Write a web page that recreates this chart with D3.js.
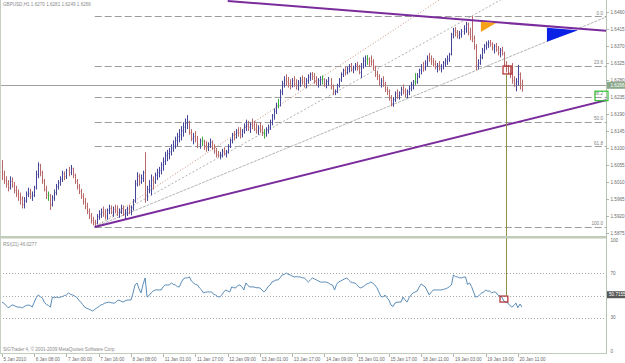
<!DOCTYPE html>
<html>
<head>
<meta charset="utf-8">
<script src="https://cdn.jsdelivr.net/npm/d3@7"></script>
<style>
  html, body { margin: 0; padding: 0; background: #fff; }
  svg { display: block; font-family: "Liberation Sans", Arial, sans-serif; }
</style>
</head>
<body>
<div id="chart"></div>
<script>
// GBPUSD H1 bars, pips above 1.5800 -> [high, low, close]; open = previous close
const base = 1.58;
const firstOpen = 250;
const bars = [
  [268,215,230],[240,205,215],[225,195,205],[215,185,195],[225,190,212],[222,195,200],[210,180,188],[200,170,178],[190,160,170],[182,150,165],
  [172,140,150],[170,140,160],[185,155,178],[195,170,180],[192,165,172],[185,160,175],[200,170,195],[240,190,230],[262,220,255],[258,225,235],
  [240,205,212],[218,185,190],[200,165,175],[185,160,175],[178,136,150],[175,145,168],[190,160,182],[205,175,198],[215,190,208],[225,200,218],
  [240,210,232],[238,215,225],[245,218,240],[250,225,235],[255,228,245],[248,220,228],[232,205,212],[218,190,198],[205,178,185],[192,165,172],
  [180,150,158],[168,138,145],[155,125,132],[140,112,120],[128,100,108],[118,95,102],[110,91,100],[125,98,118],[135,110,125],[140,115,130],
  [145,118,125],[138,112,120],[140,110,135],[150,125,140],[148,125,130],[145,118,138],[150,128,135],[148,120,128],[140,115,132],[150,125,140],
  [148,120,125],[138,112,130],[145,120,138],[150,125,135],[148,122,142],[165,135,160],[215,155,205],[236,198,225],[232,200,210],[230,205,220],
  [240,210,235],[289,155,175],[200,160,190],[215,180,200],[230,175,215],[225,190,210],[235,205,228],[245,215,235],[250,222,240],[262,230,255],
  [275,240,265],[290,255,280],[295,265,285],[300,270,290],[310,280,300],[320,290,305],[330,298,320],[340,305,330],[350,315,335],[358,320,345],
  [368,330,355],[378,340,365],[387,350,370],[372,335,340],[350,318,325],[340,310,330],[345,315,322],[332,300,310],[325,298,318],[330,305,318],
  [322,295,305],[318,290,300],[315,292,310],[325,300,315],[320,295,300],[310,285,292],[300,275,282],[292,275,280],[290,270,282],[298,275,290],
  [302,280,285],[295,275,290],[310,285,305],[325,300,320],[340,312,335],[345,320,328],[350,325,345],[355,330,340],[355,325,335],[350,328,345],
  [365,338,358],[375,345,362],[372,345,355],[368,340,362],[378,350,360],[372,345,350],[365,338,345],[360,335,352],[368,340,348],[360,332,338],
  [350,325,338],[355,330,348],[362,338,355],[375,348,368],[390,360,385],[405,375,398],[420,390,412],[430,405,412],[455,410,448],[478,440,470],
  [490,460,480],[495,465,475],[488,460,470],[482,455,465],[485,460,478],[490,462,470],[482,455,465],[480,452,472],[488,462,480],[492,468,475],
  [488,460,470],[485,458,478],[495,470,488],[500,478,495],[501,480,490],[498,470,478],[490,465,472],[485,460,478],[490,465,482],[492,468,482],
  [485,462,470],[482,458,476],[488,465,480],[485,455,462],[468,440,448],[455,440,450],[470,445,465],[485,460,480],[500,475,495],[510,488,505],
  [515,492,500],[515,495,510],[522,500,515],[525,502,508],[518,498,512],[525,505,520],[528,505,512],[520,495,500],[525,485,515],[540,510,530],
  [545,515,535],[546,520,535],[540,515,530],[545,518,528],[535,505,512],[518,488,495],[505,480,490],[495,465,472],[485,460,478],[490,462,470],
  [475,448,455],[462,440,450],[455,425,432],[440,410,418],[435,409,428],[450,422,445],[455,430,438],[450,428,445],[462,438,455],[468,442,450],
  [458,435,442],[455,432,448],[465,440,458],[475,450,468],[480,455,475],[498,467,475],[498,470,490],[510,485,505],[522,495,515],[528,502,512],
  [532,505,525],[545,515,538],[552,528,535],[545,520,528],[538,515,522],[532,508,515],[525,500,518],[530,505,510],[522,500,515],[530,508,525],
  [538,515,530],[545,520,535],[552,528,548],[605,545,600],[618,590,610],[620,595,605],[612,590,598],[610,588,602],[615,592,608],[625,600,615],
  [634,605,628],[632,598,605],[618,585,595],[649,580,590],[598,560,568],[575,506,520],[535,508,525],[548,520,540],[565,535,558],[575,550,570],
  [582,560,575],[585,565,578],[586,568,575],[580,558,565],[575,550,570],[578,555,560],[570,545,552],[565,540,558],[568,545,550],[555,515,522],
  [530,500,510],[520,495,500],[515,485,495],[525,470,478],[490,462,470],[485,450,475],[520,465,495],[500,455,470],[481,449,466]
];

// RSI(21) per bar
const rsi = [
  44,43,41,39,40,41.5,41,40,39.5,39.6, 38.7,40,41,41.4,41,39.6,44,48,50.5,49,
  47.7,44,42,41,39.6,48.6,48,48.6,48,48.6, 49,50,50.5,52.3,51,50.5,49.5,48.6,46,44.1,
  42,39.6,38.5,37.8,37,36,37.5,38.7,40,41.4, 42,43.2,43.5,44.1,43.5,43.2,43.2,45,45.9,45,
  44.1,45,45.9,46,45.9,52,59.5,61.3,56,52.3, 60,65.8,48.6,50,52.3,54,55,55,55,55,
  58,59.5,59.5,59.5,61.3,60,59.5,58,57.7,62, 65,65.8,66,66.7,63,61.3,60,59.5,56.8,55,
  52.3,53,53.2,53.2,53.2,51,50.5,49,48.6,50.5, 53,55,54,53.2,57.7,57,56.8,59,59.5,58,
  55,61.3,59,57.7,57.7,57.7,57,57,56.8,55, 53.2,55,58,59.5,62.2,63,64,64,66,68.5,
  69,70.3,69,68.5,67.5,66.7,67,66.7,66.7,66, 65.8,64,62.2,64,65.8,65,64,63,62.2,62,
  62.2,62,61.3,60,59.5,55,60,62.2,63,64, 65,65.8,64,62.2,61.5,61.3,60,57.7,56.8,57.7,
  59,60.4,61,62.2,61,59.5,57,53.2,49,48.6, 50.5,48,46,41.4,40,43.2,44,44.1,44.1,48.6,
  46,44.1,48,50.5,52.3,53.2,54,57.7,60.4,59, 57.7,54,50.5,53,55,55,55,55,55,55.5,
  56,56.8,58,59.5,68.5,67,66.7,66,65.8,66.5, 66.7,60,61.3,58,53,48.6,49,50.5,52.3,53,
  55,54,54,52.3,53.2,53,50.5,49.5,48.6,45, 44.1,43.2,41,39.6,41,43.2,39,42.3,39.6
];
const rsiHeader = 46.0277;
const rsiMarker = 50.7155;

const xLabels = ['5 Jan 2010', '6 Jan 08:00', '7 Jan 00:00', '7 Jan 16:00', '8 Jan 08:00', '11 Jan 01:00',
  '11 Jan 17:00', '12 Jan 09:00', '13 Jan 01:00', '13 Jan 17:00', '14 Jan 09:00', '15 Jan 01:00',
  '15 Jan 17:00', '18 Jan 11:00', '19 Jan 03:00', '19 Jan 19:00', '20 Jan 11:00'];
const priceTicks = ['1.6460', '1.6415', '1.6370', '1.6325', '1.6280', '1.6235', '1.6190', '1.6145',
  '1.6100', '1.6055', '1.6010', '1.5965', '1.5920', '1.5875'];
const rsiTicks = [100, 70, 30, 0];
const rsiLevels = [70, 50, 30];

// drawing objects: [bar, price]
const fibLevels = [0, 23.6, 38.2, 50, 61.8, 100];
const fibHigh = [233, 1.6449];
const fibLow = [46, 1.5891];
const trendDown = [[112, 1.6489], [300, 1.6410]];
const trendUp = [[46, 1.5891], [300, 1.6227]];
const fanBrown = [[46, 1.5891], [217, 1.6492]];
const fanGrey = [[46, 1.5891], [233, 1.6449]];
const fanGrey2 = [[46, 1.5891], [300, 1.6447]];
const triOrange = [[237.6, 1.6434], [245.1, 1.6431], [237.6, 1.6407]];
const triBlue = [[270.4, 1.6418], [285.8, 1.6412], [270.4, 1.6381]];
const boxPrice = [[248.6, 1.6317], [253, 1.6296]];
const boxRsi = [[247.1, 49.5], [251, 44.1]];
const vLineBar = 250;

const ohlc = bars.map((b, i) => ({
  i,
  o: base + (i ? bars[i - 1][2] : firstOpen) / 1e4,
  h: base + b[0] / 1e4,
  l: base + b[1] / 1e4,
  c: base + b[2] / 1e4
}));

const W = 625, H = 363;
const right = 606;
const mainBottom = 236, rsiTop = 238.5, rsiBottom = 353;

const x = d3.scaleLinear().domain([0, 299.7]).range([2, right]);
const y = d3.scaleLinear().domain([1.5875, 1.6460]).range([233, 12]);
const yr = d3.scaleLinear().domain([0, 100]).range([351, 240]);
const px = v => Math.round(x(v)) + 0.5;

const svg = d3.create('svg').attr('width', W).attr('height', H);

const defs = svg.append('defs');
defs.append('clipPath').attr('id', 'clipMain')
  .append('rect').attr('x', 1).attr('y', 0).attr('width', right - 1).attr('height', mainBottom);
defs.append('clipPath').attr('id', 'clipRsi')
  .append('rect').attr('x', 1).attr('y', rsiTop).attr('width', right - 1).attr('height', rsiBottom - rsiTop);

const main = svg.append('g').attr('clip-path', 'url(#clipMain)');
const sub = svg.append('g').attr('clip-path', 'url(#clipRsi)');

// fib levels
const fibPrice = lv => fibHigh[1] - (fibHigh[1] - fibLow[1]) * lv / 100;
main.append('g').selectAll('line')
  .data(fibLevels)
  .join('line')
  .attr('x1', x(fibLow[0])).attr('x2', right)
  .attr('y1', d => Math.round(y(fibPrice(d))) + 0.5)
  .attr('y2', d => Math.round(y(fibPrice(d))) + 0.5)
  .attr('stroke', '#9c9c9c')
  .attr('stroke-dasharray', '7 3');
main.append('g').selectAll('text')
  .data(fibLevels)
  .join('text')
  .attr('x', right - 3)
  .attr('y', d => y(fibPrice(d)) - 1.5)
  .attr('text-anchor', 'end')
  .attr('font-size', 4.6)
  .attr('fill', '#808080')
  .text(d => d.toFixed(1));

// bid line
const last = ohlc[ohlc.length - 1];
main.append('line')
  .attr('x1', 0).attr('x2', right)
  .attr('y1', Math.round(y(last.c)) + 0.5).attr('y2', Math.round(y(last.c)) + 0.5)
  .attr('stroke', '#a0a0a0');

// rays from two points
const ray = (g, pts, color, width, dash) => {
  const [a, b] = pts;
  const x1 = x(a[0]), y1 = y(a[1]), x2 = x(b[0]), y2 = y(b[1]);
  const t = 6;
  g.append('line')
    .attr('x1', x1).attr('y1', y1)
    .attr('x2', x1 + (x2 - x1) * t).attr('y2', y1 + (y2 - y1) * t)
    .attr('stroke', color).attr('stroke-width', width)
    .attr('stroke-dasharray', dash);
};
ray(main, fanBrown, '#c4907c', 1, '1 2');
ray(main, fanGrey, '#b0b0b0', 1, '2 2');
ray(main, fanGrey2, '#b4b4b4', 1, '3 1');

// bars
const upColor = '#45459a', downColor = '#b86868', flatColor = '#3cae3c';
const barColor = d => d.c > d.o + 1e-9 ? upColor : d.c < d.o - 1e-9 ? downColor : flatColor;
const gBars = main.append('g');
gBars.selectAll('.tick-o')
  .data(ohlc)
  .join('line')
  .attr('x1', d => px(d.i) - 1).attr('x2', d => px(d.i))
  .attr('y1', d => y(d.o)).attr('y2', d => y(d.o))
  .attr('stroke', barColor).attr('stroke-opacity', 0.35);
gBars.selectAll('.tick-c')
  .data(ohlc)
  .join('line')
  .attr('x1', d => px(d.i)).attr('x2', d => px(d.i) + 1)
  .attr('y1', d => y(d.c)).attr('y2', d => y(d.c))
  .attr('stroke', barColor).attr('stroke-opacity', 0.35);
gBars.selectAll('.hl')
  .data(ohlc)
  .join('line')
  .attr('x1', d => px(d.i)).attr('x2', d => px(d.i))
  .attr('y1', d => y(d.h)).attr('y2', d => y(d.l))
  .attr('stroke', barColor);

// trend lines
const tl = (pts, extend) => {
  const [a, b] = pts;
  main.append('line')
    .attr('x1', x(a[0])).attr('y1', y(a[1]))
    .attr('x2', x(b[0])).attr('y2', y(b[1]))
    .attr('stroke', '#7a2c9c').attr('stroke-width', 2);
};
tl(trendDown);
tl(trendUp);

// triangles
const tri = (pts, color) => main.append('path')
  .attr('d', d3.line().x(d => x(d[0])).y(d => y(d[1]))(pts) + 'Z')
  .attr('fill', color);
tri(triOrange, '#f7a11a');
tri(triBlue, '#0b22e6');

// red box on price
main.append('rect')
  .attr('x', x(boxPrice[0][0])).attr('y', y(boxPrice[0][1]))
  .attr('width', x(boxPrice[1][0]) - x(boxPrice[0][0]))
  .attr('height', y(boxPrice[1][1]) - y(boxPrice[0][1]))
  .attr('fill', 'none').attr('stroke', '#b0282a').attr('stroke-width', 1.2);

// RSI panel
sub.append('g').selectAll('line')
  .data(rsiLevels)
  .join('line')
  .attr('x1', 0).attr('x2', right)
  .attr('y1', d => Math.round(yr(d)) + 0.5).attr('y2', d => Math.round(yr(d)) + 0.5)
  .attr('stroke', '#a8a8a8').attr('stroke-dasharray', '1 2');
sub.append('path')
  .datum(rsi)
  .attr('fill', 'none')
  .attr('stroke', '#5a8cb8')
  .attr('stroke-width', 1)
  .attr('d', d3.line().x((d, i) => x(i)).y(d => yr(d)));
sub.append('rect')
  .attr('x', x(boxRsi[0][0])).attr('y', yr(boxRsi[0][1]))
  .attr('width', x(boxRsi[1][0]) - x(boxRsi[0][0]))
  .attr('height', yr(boxRsi[1][1]) - yr(boxRsi[0][1]))
  .attr('fill', 'none').attr('stroke', '#b0282a').attr('stroke-width', 1.2);

// vertical line joining the two boxes
svg.append('line')
  .attr('x1', px(vLineBar)).attr('x2', px(vLineBar))
  .attr('y1', y(boxPrice[1][1])).attr('y2', yr(boxRsi[0][1]))
  .attr('stroke', '#8f8f48');

// frames
svg.append('line').attr('x1', 0.5).attr('x2', 0.5).attr('y1', 0).attr('y2', rsiBottom)
  .attr('stroke', '#c8cfc4');
svg.append('rect').attr('x', 0).attr('y', mainBottom).attr('width', right + 1).attr('height', 2.5)
  .attr('fill', '#c2ccba');
svg.append('line').attr('x1', 0).attr('x2', right + 1).attr('y1', rsiBottom + 0.5).attr('y2', rsiBottom + 0.5)
  .attr('stroke', '#c2ccba');
svg.append('line').attr('x1', right + 0.5).attr('x2', right + 0.5).attr('y1', 0).attr('y2', rsiBottom)
  .attr('stroke', '#b8c4b0');

// green 38.2 box
const y382 = y(fibPrice(38.2));
svg.append('rect')
  .attr('x', right - 11).attr('y', y382 - 5.5).attr('width', 13).attr('height', 9.5)
  .attr('fill', 'none').attr('stroke', '#2fc42f').attr('stroke-width', 1.2);

// price axis
const axisText = '#6a6a6a';
svg.append('g').selectAll('text')
  .data(priceTicks)
  .join('text')
  .attr('x', right + 4.5)
  .attr('y', d => y(+d))
  .attr('dy', '0.35em')
  .attr('font-size', 4.6)
  .attr('fill', axisText)
  .text(d => d);
svg.append('g').selectAll('line')
  .data(priceTicks)
  .join('line')
  .attr('x1', right).attr('x2', right + 3)
  .attr('y1', d => Math.round(y(+d)) + 0.5).attr('y2', d => Math.round(y(+d)) + 0.5)
  .attr('stroke', '#9aa')
  .attr('stroke-width', 0.8);

// current price label
svg.append('rect')
  .attr('x', right + 1).attr('y', y(last.c) - 3.5).attr('width', W - right - 1).attr('height', 7)
  .attr('fill', '#8aa88a');
svg.append('text')
  .attr('x', right + 4.5).attr('y', y(last.c)).attr('dy', '0.35em')
  .attr('font-size', 4.6).attr('fill', '#fff')
  .text(last.c.toFixed(4));

// rsi axis
svg.append('g').selectAll('text')
  .data(rsiTicks)
  .join('text')
  .attr('x', right + 4.5)
  .attr('y', d => yr(d))
  .attr('dy', '0.35em')
  .attr('font-size', 4.6)
  .attr('fill', axisText)
  .text(d => d);
svg.append('rect')
  .attr('x', right + 1).attr('y', yr(rsiMarker) - 3.5).attr('width', W - right - 1).attr('height', 7)
  .attr('fill', '#585858');
svg.append('text')
  .attr('x', right + 3).attr('y', yr(rsiMarker)).attr('dy', '0.35em')
  .attr('font-size', 4.6).attr('fill', '#fff')
  .text(rsiMarker.toFixed(4));

// time axis
const gx = svg.append('g');
gx.selectAll('line')
  .data(xLabels)
  .join('line')
  .attr('x1', (d, k) => px(k * 16)).attr('x2', (d, k) => px(k * 16))
  .attr('y1', rsiBottom + 1).attr('y2', rsiBottom + 4)
  .attr('stroke', '#a0a0a0').attr('stroke-width', 0.8);
gx.selectAll('text')
  .data(xLabels)
  .join('text')
  .attr('x', (d, k) => x(k * 16) + 1.5)
  .attr('y', 359)
  .attr('dy', '0.35em')
  .attr('font-size', 4.6)
  .attr('fill', axisText)
  .text(d => d);

// headers
svg.append('text')
  .attr('x', 3).attr('y', 6).attr('font-size', 4.6).attr('fill', '#8a8a8a')
  .text(`GBPUSD,H1  ${last.o.toFixed(4)} ${last.h.toFixed(4)} ${last.l.toFixed(4)} ${last.c.toFixed(4)}`);
svg.append('text')
  .attr('x', 3).attr('y', 246).attr('font-size', 4.6).attr('fill', '#8a8a8a')
  .text(`RSI(21) ${rsiHeader.toFixed(4)}`);
svg.append('text')
  .attr('x', 3).attr('y', 351).attr('font-size', 4.6).attr('fill', '#8a8a8a')
  .text('SIGTrader 4, \u00a9 2001-2009 MetaQuotes Software Corp.');

d3.select('#chart').append(() => svg.node());
</script>
</body>
</html>
